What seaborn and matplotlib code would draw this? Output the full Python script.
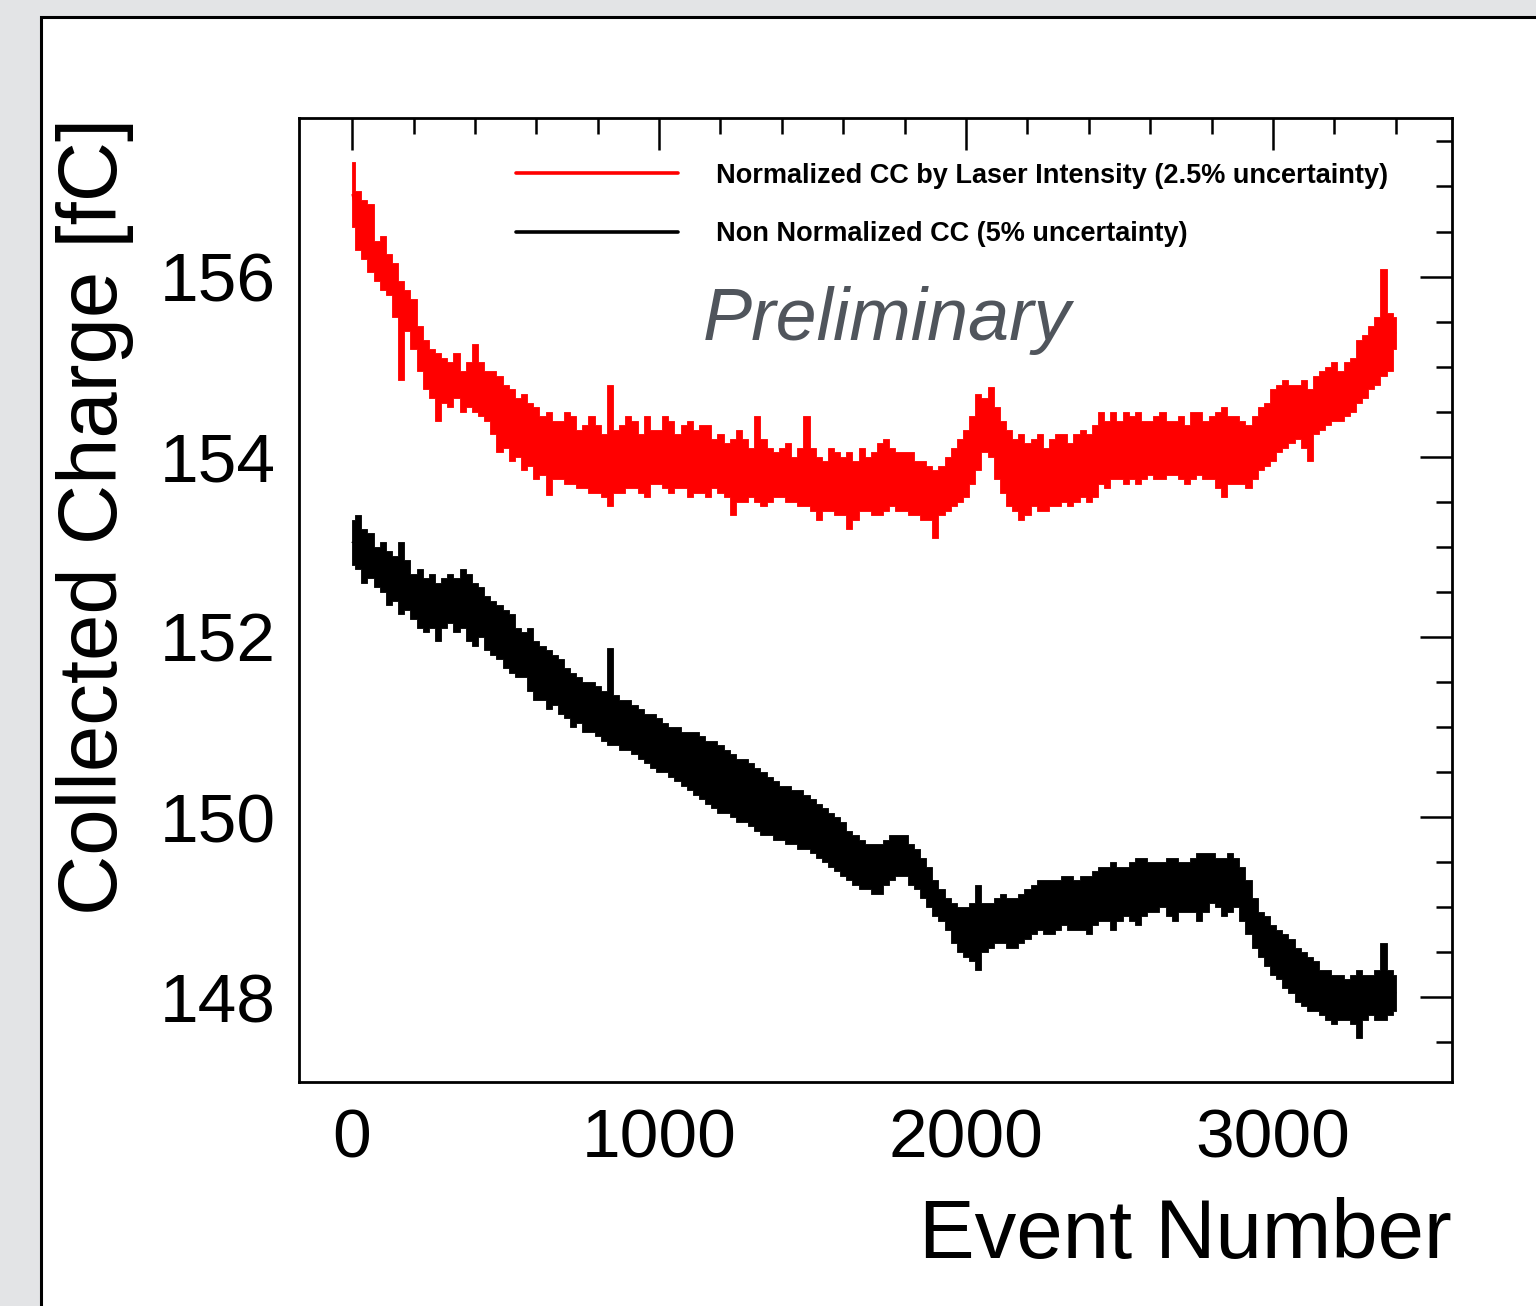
import numpy as np
import pandas as pd
import matplotlib
matplotlib.use("Agg")
import matplotlib.pyplot as plt
import matplotlib.patches as mpatches
import seaborn as sns

# ---------------- data ----------------
# every 20 events: upper and lower edge of the fluctuating band
events = list(range(0, 3401, 20))

red_label = "Normalized CC by Laser Intensity (2.5% uncertainty)"
black_label = "Non Normalized CC (5% uncertainty)"

red_hi = [157.27, 156.95, 156.85, 156.80, 156.40, 156.45, 156.25, 156.15, 155.95, 155.85,
          155.75, 155.45, 155.30, 155.20, 155.15, 155.10, 155.05, 155.15, 154.95, 155.05,
          155.25, 155.05, 154.95, 154.95, 154.90, 154.80, 154.75, 154.65, 154.70, 154.60,
          154.55, 154.45, 154.50, 154.40, 154.40, 154.50, 154.45, 154.30, 154.35, 154.45,
          154.35, 154.25, 154.80, 154.30, 154.35, 154.45, 154.40, 154.25, 154.45, 154.30,
          154.30, 154.45, 154.40, 154.25, 154.35, 154.40, 154.30, 154.35, 154.35, 154.20,
          154.25, 154.15, 154.20, 154.30, 154.20, 154.10, 154.45, 154.20, 154.10, 154.05,
          154.10, 154.15, 154.00, 154.10, 154.45, 154.10, 154.00, 153.95, 154.10, 154.05,
          154.00, 154.05, 153.95, 154.10, 154.00, 154.05, 154.15, 154.20, 154.10, 154.05,
          154.05, 154.05, 153.95, 153.95, 153.90, 153.85, 153.90, 154.00, 154.10, 154.20,
          154.30, 154.45, 154.70, 154.65, 154.77, 154.55, 154.40, 154.30, 154.20, 154.25,
          154.15, 154.20, 154.25, 154.10, 154.20, 154.25, 154.25, 154.15, 154.25, 154.30,
          154.25, 154.35, 154.50, 154.40, 154.50, 154.40, 154.50, 154.45, 154.50, 154.40,
          154.40, 154.45, 154.50, 154.40, 154.40, 154.45, 154.35, 154.50, 154.50, 154.40,
          154.45, 154.50, 154.55, 154.45, 154.45, 154.40, 154.35, 154.45, 154.55, 154.60,
          154.75, 154.80, 154.85, 154.80, 154.80, 154.85, 154.75, 154.90, 154.95, 155.00,
          155.05, 154.95, 155.05, 155.10, 155.30, 155.35, 155.45, 155.55, 156.08, 155.60,
          155.55]
red_lo = [156.55, 156.30, 156.20, 156.05, 155.95, 155.85, 155.80, 155.55, 154.85, 155.40,
          155.20, 154.95, 154.75, 154.65, 154.40, 154.60, 154.55, 154.65, 154.50, 154.55,
          154.50, 154.45, 154.40, 154.25, 154.05, 154.10, 153.95, 154.00, 153.85, 153.90,
          153.75, 153.80, 153.57, 153.75, 153.75, 153.70, 153.70, 153.65, 153.65, 153.60,
          153.60, 153.55, 153.45, 153.60, 153.60, 153.65, 153.65, 153.60, 153.55, 153.70,
          153.70, 153.65, 153.60, 153.65, 153.65, 153.55, 153.60, 153.60, 153.55, 153.65,
          153.60, 153.55, 153.35, 153.50, 153.50, 153.55, 153.50, 153.45, 153.50, 153.55,
          153.55, 153.50, 153.50, 153.45, 153.45, 153.40, 153.30, 153.40, 153.40, 153.35,
          153.35, 153.20, 153.30, 153.40, 153.40, 153.35, 153.35, 153.40, 153.45, 153.40,
          153.40, 153.35, 153.35, 153.30, 153.30, 153.10, 153.35, 153.40, 153.45, 153.50,
          153.55, 153.70, 153.85, 154.05, 154.00, 153.75, 153.60, 153.45, 153.40, 153.30,
          153.35, 153.45, 153.40, 153.40, 153.45, 153.45, 153.50, 153.45, 153.50, 153.55,
          153.50, 153.55, 153.70, 153.65, 153.75, 153.75, 153.70, 153.75, 153.70, 153.75,
          153.80, 153.75, 153.75, 153.80, 153.80, 153.75, 153.70, 153.75, 153.80, 153.75,
          153.75, 153.65, 153.55, 153.70, 153.70, 153.70, 153.65, 153.75, 153.85, 153.90,
          153.95, 154.05, 154.10, 154.15, 154.20, 154.10, 153.95, 154.25, 154.30, 154.35,
          154.40, 154.40, 154.45, 154.50, 154.60, 154.65, 154.75, 154.80, 154.90, 154.95,
          155.20]

black_hi = [153.30, 153.35, 153.20, 153.15, 153.00, 153.05, 152.95, 152.90, 153.05, 152.85,
            152.70, 152.75, 152.65, 152.70, 152.60, 152.65, 152.70, 152.65, 152.75, 152.70,
            152.60, 152.55, 152.45, 152.40, 152.35, 152.30, 152.25, 152.10, 152.05, 152.10,
            151.95, 151.90, 151.85, 151.80, 151.75, 151.65, 151.60, 151.55, 151.50, 151.50,
            151.45, 151.40, 151.88, 151.35, 151.30, 151.30, 151.25, 151.20, 151.15, 151.15,
            151.10, 151.05, 151.00, 151.00, 150.95, 150.95, 150.95, 150.90, 150.85, 150.85,
            150.80, 150.75, 150.70, 150.65, 150.65, 150.60, 150.55, 150.50, 150.45, 150.40,
            150.35, 150.35, 150.30, 150.30, 150.25, 150.20, 150.15, 150.10, 150.05, 150.00,
            149.95, 149.85, 149.80, 149.75, 149.70, 149.70, 149.70, 149.75, 149.80, 149.80,
            149.80, 149.70, 149.65, 149.55, 149.45, 149.30, 149.20, 149.10, 149.05, 149.00,
            149.00, 149.05, 149.25, 149.05, 149.05, 149.10, 149.15, 149.10, 149.10, 149.15,
            149.20, 149.25, 149.30, 149.30, 149.30, 149.30, 149.35, 149.35, 149.30, 149.35,
            149.35, 149.40, 149.45, 149.45, 149.50, 149.45, 149.45, 149.50, 149.55, 149.55,
            149.50, 149.50, 149.50, 149.55, 149.55, 149.50, 149.50, 149.55, 149.60, 149.60,
            149.60, 149.55, 149.55, 149.60, 149.55, 149.45, 149.30, 149.10, 148.95, 148.90,
            148.80, 148.75, 148.70, 148.65, 148.55, 148.50, 148.45, 148.40, 148.30, 148.30,
            148.25, 148.25, 148.20, 148.25, 148.30, 148.25, 148.25, 148.30, 148.60, 148.30,
            148.25]
black_lo = [152.80, 152.75, 152.60, 152.65, 152.55, 152.50, 152.35, 152.40, 152.25, 152.30,
            152.20, 152.10, 152.05, 152.10, 151.95, 152.10, 152.15, 152.05, 152.10, 151.95,
            151.90, 152.00, 151.85, 151.80, 151.75, 151.65, 151.60, 151.55, 151.55, 151.40,
            151.30, 151.30, 151.20, 151.25, 151.15, 151.10, 151.00, 151.05, 150.95, 150.95,
            150.90, 150.85, 150.80, 150.80, 150.75, 150.75, 150.70, 150.65, 150.60, 150.55,
            150.50, 150.50, 150.45, 150.40, 150.35, 150.30, 150.25, 150.20, 150.15, 150.10,
            150.05, 150.05, 150.00, 149.95, 149.95, 149.90, 149.85, 149.80, 149.80, 149.75,
            149.75, 149.70, 149.70, 149.65, 149.65, 149.60, 149.55, 149.50, 149.45, 149.40,
            149.35, 149.30, 149.25, 149.20, 149.20, 149.15, 149.15, 149.25, 149.30, 149.35,
            149.35, 149.25, 149.20, 149.10, 149.00, 148.90, 148.85, 148.75, 148.60, 148.50,
            148.45, 148.40, 148.30, 148.50, 148.55, 148.60, 148.60, 148.55, 148.55, 148.60,
            148.65, 148.70, 148.75, 148.70, 148.70, 148.75, 148.80, 148.75, 148.75, 148.75,
            148.70, 148.80, 148.85, 148.85, 148.75, 148.85, 148.90, 148.85, 148.80, 148.90,
            148.95, 148.95, 149.00, 148.90, 148.85, 148.95, 148.95, 148.95, 148.85, 148.95,
            149.05, 149.00, 148.90, 148.95, 149.00, 148.85, 148.70, 148.55, 148.45, 148.35,
            148.25, 148.20, 148.10, 148.05, 147.95, 147.90, 147.85, 147.85, 147.80, 147.75,
            147.70, 147.75, 147.75, 147.70, 147.55, 147.75, 147.80, 147.75, 147.75, 147.80,
            147.85]

x_ticks = [0, 1000, 2000, 3000]
y_ticks = [148, 150, 152, 154, 156]


def band_frame(hi, lo):
    # two observations (upper / lower edge) per event
    return pd.DataFrame({"Event": list(events) + list(events),
                         "Charge": list(hi) + list(lo)})


red_df = band_frame(red_hi, red_lo)
black_df = band_frame(black_hi, black_lo)

# ---------------- style ----------------
sns.set_style("white")
plt.rcParams["font.family"] = ["Liberation Sans", "DejaVu Sans"]
for k in ["text.color", "axes.labelcolor", "xtick.color", "ytick.color"]:
    plt.rcParams[k] = "black"

W, H = 1536, 1306
fig = plt.figure(figsize=(W / 100, H / 100), dpi=100, facecolor="#e3e4e6")

# white page with black frame (behind the axes)
page = mpatches.Rectangle((40.5 / W, -0.05), 1.2, 1 - 16.5 / H + 0.05,
                          transform=fig.transFigure, facecolor="white",
                          edgecolor="black", linewidth=2.2, zorder=-10)
fig.add_artist(page)

ax = fig.add_axes([299 / W, 1 - 1082 / H, (1452 - 299) / W, (1082 - 118) / H])
ax.set_zorder(5)
ax.set_facecolor("white")

RED = "#ff0000"
for df, col, lab in [(red_df, RED, red_label), (black_df, "black", black_label)]:
    sns.lineplot(data=df, x="Event", y="Charge", ax=ax, color=col, lw=1.0,
                 estimator="mean", errorbar=("pi", 100), label=lab,
                 err_kws={"alpha": 1.0, "step": "mid", "linewidth": 0.6,
                          "edgecolor": col},
                 zorder=3)

ax.set_xticks(x_ticks)
ax.set_yticks(y_ticks)
ax.set_xticks(np.arange(0, 3600, 200), minor=True)
ax.set_yticks(np.arange(147.5, 157.6, 0.5), minor=True)
ax.set_xlim(-173, 3583)
ax.set_ylim(147.06, 157.76)

ax.tick_params(which="both", direction="in", top=True, right=True,
               width=1.8, color="black")
ax.tick_params(which="major", length=23, labelsize=50, pad=17)
ax.tick_params(which="minor", length=11.5)
ax.tick_params(axis="x", which="major", pad=18)
for s in ax.spines.values():
    s.set_linewidth(2.0)
    s.set_color("black")

ax.set_xlabel("Event Number", fontsize=60, loc="right")
ax.set_ylabel("Collected Charge [fC]", fontsize=60, loc="top")
ax.xaxis.set_label_coords(1.0, -0.119)
ax.yaxis.set_label_coords(-0.143, 1.0)

ax.text(0.350, 0.7697, "Preliminary", transform=ax.transAxes, fontsize=53,
        style="italic", color="#50555c", va="baseline", ha="left")

leg = ax.legend(loc="upper left", bbox_to_anchor=(0.1882, 0.9535), frameon=False,
                prop={"weight": "bold", "size": 19.5},
                handlelength=6.0, handletextpad=1.4, labelspacing=1.2,
                borderpad=0, borderaxespad=0)
for ln in leg.get_lines():
    ln.set_linewidth(2.6)

fig.savefig("out.png", dpi=100, facecolor=fig.get_facecolor())
